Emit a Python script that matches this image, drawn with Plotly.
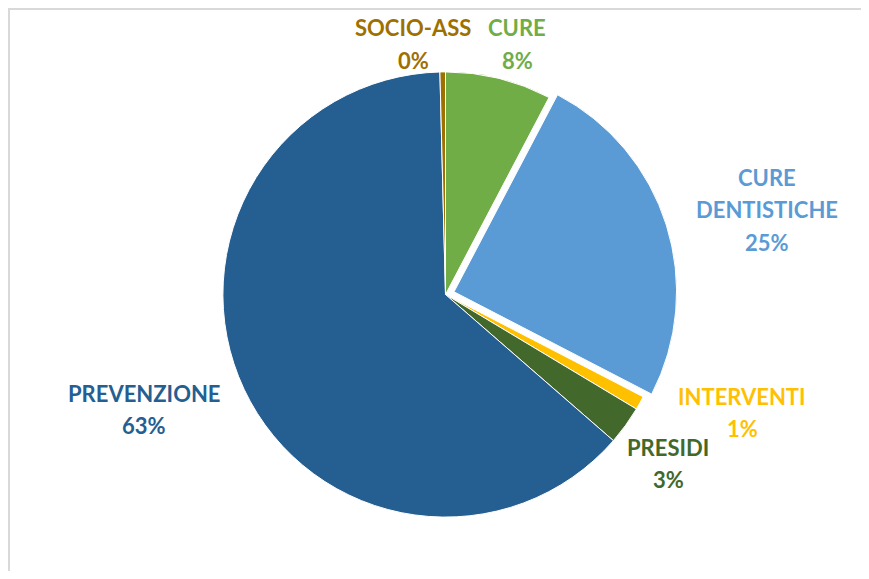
import plotly.graph_objects as go

labels = ["CURE", "CURE<br>DENTISTICHE", "INTERVENTI", "PRESIDI", "PREVENZIONE", "SOCIO-ASS"]
values = [7.7, 24.9, 1.0, 2.8, 63.2, 0.4]
colors = ["#70AD47", "#5B9BD5", "#FFC000", "#43682B", "#255E91", "#9E7000"]
pulls = [0, 0.04, 0, 0, 0, 0]

OFF = 8  # page body margin
W, H = 869 - 2 * OFF, 579 - 2 * OFF
total = sum(values)
pcts = [f"{round(v / total * 100):d}%" for v in values]


def fx(X):
    return (X - OFF) / W


def fy(Y):
    return 1 - (Y - OFF) / H


fig = go.Figure(go.Pie(
    labels=labels, values=values, sort=False, direction="clockwise", rotation=0,
    marker=dict(colors=colors, line=dict(color="white", width=1)),
    pull=pulls, textinfo="none", hoverinfo="label+percent", showlegend=False,
    domain=dict(x=[fx(214), fx(677)], y=[fy(526), fy(63)]),
))

# label positions (page pixel centers of the first text line)
label_pos = {
    "CURE": (517, 28),
    "CURE<br>DENTISTICHE": (767, 178),
    "INTERVENTI": (742, 396),
    "PRESIDI": (668, 447),
    "PREVENZIONE": (144, 393),
    "SOCIO-ASS": (413, 28),
}
line_gap = 32
annotations = []
for lab, pct, col in zip(labels, pcts, colors):
    x, y = label_pos[lab]
    lines = lab.split("<br>") + [pct]
    for i, t in enumerate(lines):
        annotations.append(dict(
            x=fx(x), y=fy(y + i * line_gap), xref="paper", yref="paper",
            text=t, showarrow=False, xanchor="center", yanchor="middle",
            font=dict(family="Lato", size=22, color=col, weight="bold"),
        ))

border = dict(color="#D9D9D9", width=2)
fig.update_layout(
    width=W, height=H, margin=dict(l=0, r=0, t=0, b=0),
    paper_bgcolor="white", plot_bgcolor="white",
    annotations=annotations,
    shapes=[
        dict(type="line", xref="paper", yref="paper",
             x0=1 / W, x1=1 / W, y0=0, y1=1 - 0.5 / H, line=border),
        dict(type="line", xref="paper", yref="paper",
             x0=0, x1=1, y0=1 - 1 / H, y1=1 - 1 / H, line=border),
    ],
)
fig.write_html("out.html")
